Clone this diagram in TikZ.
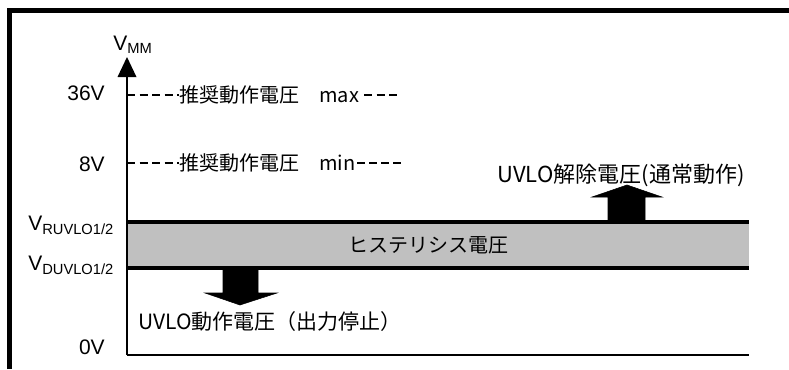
\documentclass[tikz,border=0pt]{standalone}
\usepackage{fontspec}
\setmainfont{Liberation Sans}
\newfontfamily\jp{Noto Sans CJK JP}
\begin{document}
\begin{tikzpicture}[x=0.75pt,y=-0.75pt,
  lbl/.style={inner sep=0pt, font=\fontsize{15.75}{18}\selectfont},
  jplbl/.style={inner sep=0pt, font=\jp\fontsize{15}{18}\selectfont},
  dashline/.style={line width=1.1pt, dash pattern=on 6pt off 3.4pt},
  dashseg/.style={line width=1.1pt},
  blockarrow/.style={fill=black, draw=black, line width=0.4pt, line join=miter},
  thickrule/.style={line width=2.4pt},
  axisline/.style={line width=1.1pt}]
\useasboundingbox (0,0) rectangle (789,369);
% frame
\draw[line width=3.5pt] (9.2,369) -- (9.2,10.3) -- (789,10.3);
% band
\fill[fill={rgb,255:red,192;green,192;blue,192}] (127,222) rectangle (749,268);
\coordinate (rtL) at (127,222); \coordinate (rtR) at (749,222);
\coordinate (dtL) at (127,268); \coordinate (dtR) at (749,268);
\draw[thickrule] (rtL) -- (rtR);
\draw[thickrule] (dtL) -- (dtR);
\node[jplbl] (hys) at (428,245) {ヒステリシス電圧};
% axes
\coordinate (origin) at (127,355);
\coordinate (tip) at (127,57);
\coordinate (xend) at (749,355);
\draw[axisline] (origin) -- (127,76);
\fill (tip) -- (117.5,77) -- (136.5,77) -- cycle;
\draw[line width=1pt] (origin) -- (xend);
% axis labels
\node[lbl, anchor=base west] (vmm) at (113,50) {V\textsubscript{MM}};
\node[lbl, anchor=base east] (l36) at (105,100) {36V};
\node[lbl, anchor=base east] (l8) at (105,171) {8V};
\node[lbl, anchor=base west] (lr) at (28,230) {V\textsubscript{RUVLO1/2}};
\node[lbl, anchor=base west] (ld) at (28,270) {V\textsubscript{DUVLO1/2}};
\node[lbl, anchor=base east] (l0) at (105,354) {0V};
% recommended voltages
\coordinate (a36) at (127,95);
\coordinate (a8) at (127,163);
\node[jplbl, anchor=west] (t36) at (179,95) {推奨動作電圧　max};
\node[jplbl, anchor=west] (t8) at (179,163) {推奨動作電圧　min};
\draw[dashline] (a36) -- (t36.west);
\draw[dashline] (a8) -- (t8.west);
\foreach \s in {364,376.5,389} \draw[dashseg] (\s,95) -- ++(8,0);
\foreach \s in {357,369,381,393} \draw[dashseg] (\s,163) -- ++(7.5,0);
% release arrow
\fill[blockarrow] (608,222) -- (608,197) -- (592,197) -- (627,185) -- (662,197) -- (645,197) -- (645,222) -- cycle;
\node[inner sep=0pt, font=\jp\fontsize{16.5}{19}\selectfont] (rel) at (621,175) {UVLO解除電圧(通常動作)};
% UVLO arrow
\fill[blockarrow] (223,269) -- (223,293) -- (205,293) -- (240,305) -- (277,293) -- (258,293) -- (258,269) -- cycle;
\node[anchor=west, inner sep=0pt, font=\jp\fontsize{15.75}{18}\selectfont] (uv) at (138,322) {UVLO動作電圧（出力停止）};
\end{tikzpicture}
\end{document}
